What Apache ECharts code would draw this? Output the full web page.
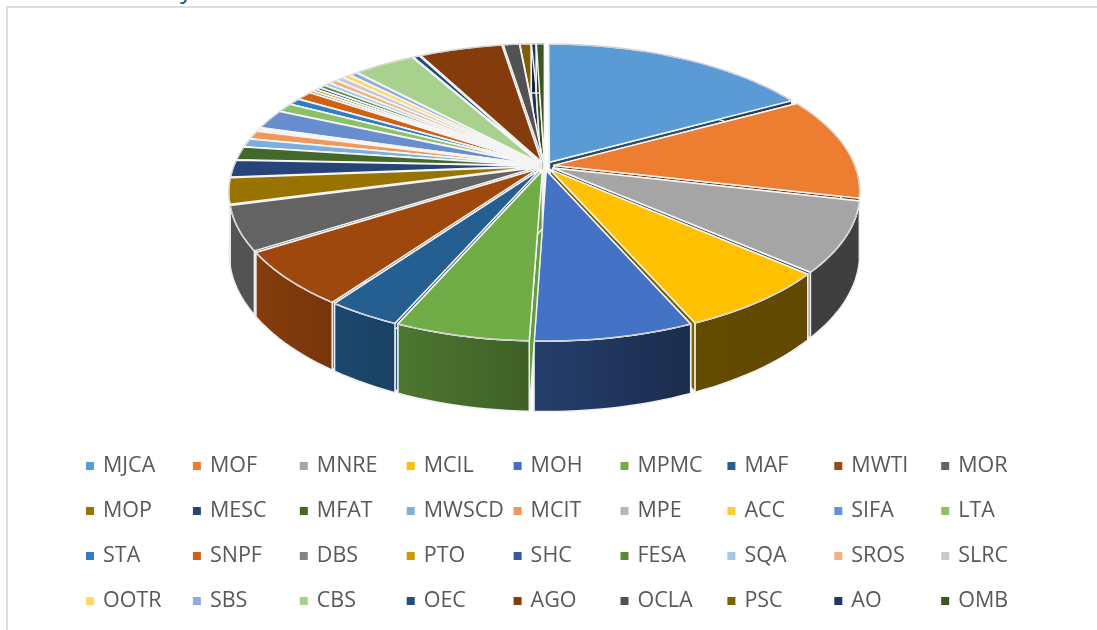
<!DOCTYPE html>
<html>
<head>
<meta charset="utf-8">
<title>Pie</title>
<script src="https://cdn.jsdelivr.net/npm/echarts@6/dist/echarts.min.js"></script>
<style>
  html, body { margin: 0; background: #fff; }
  #chart { width: 1097px; height: 630px; }
</style>
</head>
<body>
<div id="chart"></div>
<script>
const categories = ['MJCA', 'MOF', 'MNRE', 'MCIL', 'MOH', 'MPMC', 'MAF', 'MWTI', 'MOR',
  'MOP', 'MESC', 'MFAT', 'MWSCD', 'MCIT', 'MPE', 'ACC', 'SIFA', 'LTA',
  'STA', 'SNPF', 'DBS', 'PTO', 'SHC', 'FESA', 'SQA', 'SROS', 'SLRC',
  'OOTR', 'SBS', 'CBS', 'OEC', 'AGO', 'OCLA', 'PSC', 'AO', 'OMB']
const values = [17.0, 11.6, 7.8, 7.0, 7.1, 6.0, 3.3, 6.1, 4.9,
  2.9, 1.9, 1.5, 0.95, 0.95, 0.2, 0.2, 2.2, 1.0,
  0.75, 1.0, 0.26, 0.28, 0.28, 0.38, 0.42, 0.5, 0.52,
  0.48, 0.48, 3.85, 0.4, 5.2, 1.0, 0.7, 0.3, 0.5]
const colors = ['#5B9BD5', '#ED7D31', '#A5A5A5', '#FFC000', '#4472C4', '#70AD47', '#255E91', '#9E480E', '#636363',
  '#997300', '#264478', '#43682B', '#7CAFDD', '#F1975A', '#B7B7B7', '#FFCD33', '#698ED0', '#8CC168',
  '#327DC2', '#D26012', '#848484', '#CC9A00', '#335AA1', '#5A8A39', '#A3C7E8', '#F4B183', '#C9C9C9',
  '#FFD966', '#8FAADC', '#A9D18E', '#1F4E79', '#843C0C', '#525252', '#7F6000', '#1F3864', '#385723']

// pie seen in perspective, tuned by eye against the picture
const view = { cx: 544.5, cy: 166, rx: 301, ry: 139.6, k: 0.172, depth: 58, explode: 0.032 }
const columns = 9
const total = values.reduce((a, b) => a + b, 0)

function project(u, v) {
  const w = 1 - view.k * v
  return [view.cx + view.rx * u / w, view.cy + view.ry * v / w, w]
}

// position on the top disc, angle clockwise from 12 o'clock
function rimPoint(angle, mid, r) {
  const u = r * Math.sin(angle) + view.explode * Math.sin(mid)
  const v = -r * Math.cos(angle) - view.explode * Math.cos(mid)
  return project(u, v)
}

function lower(p) {
  return [p[0], p[1] + view.depth / p[2]]
}

function darken(hex, f) {
  const n = parseInt(hex.slice(1), 16)
  const c = [n >> 16, (n >> 8) & 255, n & 255].map((d) => Math.round(d * f))
  return 'rgb(' + c.join(',') + ')'
}

function shade(hex, x) {
  // walls get darker towards the right
  const t = Math.min(1, Math.max(0, (x - 240) / 460))
  return darken(hex, 0.85 - 0.47 * t)
}

function wallFill(color, pts) {
  const xs = pts.map((p) => p[0])
  const x0 = Math.min.apply(null, xs)
  const x1 = Math.max.apply(null, xs)
  return {
    type: 'linear', x: 0, y: 0, x2: 1, y2: 0,
    colorStops: [{ offset: 0, color: shade(color, x0) }, { offset: 1, color: shade(color, x1) }]
  }
}

function renderSlice(params, api) {
  const before = api.value(0)
  const value = api.value(1)
  const color = colors[params.seriesIndex]
  const a0 = before / total * Math.PI * 2
  const a1 = (before + value) / total * Math.PI * 2
  const mid = (a0 + a1) / 2
  const steps = Math.max(2, Math.ceil((a1 - a0) / 0.03))
  const rim = []
  for (let i = 0; i <= steps; i++) {
    rim.push(rimPoint(a0 + (a1 - a0) * i / steps, mid, 1))
  }
  const apex = rimPoint(0, mid, 0)
  const rimLow = rim.map(lower).reverse()
  const children = []
  const wallLine = { stroke: '#f0f0f0', lineWidth: 1.5 }
  // cut faces turned to the left catch the light
  const cutFill = mid > Math.PI ? darken(color, 0.9) : darken(color, 0.5)

  // the two cut faces first, they show through the gaps between slices
  ;[rim[0], rim[rim.length - 1]].forEach((p) => {
    const pts = [apex, p, lower(p), lower(apex)].map((q) => [q[0], q[1]])
    children.push({ type: 'polygon', shape: { points: pts }, style: Object.assign({ fill: cutFill }, wallLine) })
  })
  const wall = rim.map((q) => [q[0], q[1]]).concat(rimLow)
  children.push({ type: 'polygon', shape: { points: wall }, style: Object.assign({ fill: wallFill(color, wall) }, wallLine) })

  const top = [[apex[0], apex[1]]].concat(rim.map((q) => [q[0], q[1]]))
  children.push({ type: 'polygon', shape: { points: top }, style: { fill: color, stroke: '#f6f6f6', lineWidth: 1.5, lineJoin: 'round' } })
  children.push({ type: 'polyline', shape: { points: rim.map((q) => [q[0], q[1]]) }, style: { fill: 'none', stroke: '#c8c8c8', lineWidth: 1 } })
  return { type: 'group', children: children }
}

// slices nearer to the viewer paint later
let running = 0
const seriesList = categories.map((name, i) => {
  const before = running
  running += values[i]
  const midAngle = (before + values[i] / 2) / total * Math.PI * 2
  return {
    type: 'custom',
    name: name,
    coordinateSystem: 'none',
    silent: true,
    z: 10 + Math.round((1 - Math.cos(midAngle)) * 100),
    itemStyle: { color: colors[i] },
    data: [[before, values[i]]],
    renderItem: renderSlice
  }
})

const legends = []
for (let c = 0; c < columns; c++) {
  legends.push({
    orient: 'vertical',
    left: 86 + c * 106.9,
    top: 454,
    padding: 0,
    itemWidth: 8,
    itemHeight: 8,
    itemGap: 21,
    icon: 'rect',
    selectedMode: false,
    data: categories.filter((_, i) => i % columns === c),
    textStyle: {
      fontFamily: '"Open Sans"',
      fontSize: 21.5,
      lineHeight: 24,
      color: '#595959',
      padding: [0, 0, 0, 4]
    }
  })
}

const chart = echarts.init(document.getElementById('chart'))
chart.setOption({
  backgroundColor: '#fff',
  animation: false,
  legend: legends,
  graphic: [{
    type: 'polyline',
    shape: { points: [[7, 630], [7, 7], [1097, 7]] },
    style: { fill: 'none', stroke: '#dedede', lineWidth: 2 }
  }, {
    // tail of the heading that is cut off above the frame
    type: 'text',
    x: 180,
    y: 4,
    style: { text: 'y', fontFamily: '"Open Sans"', fontSize: 26, fill: '#1F4E79', verticalAlign: 'bottom' }
  }],
  series: seriesList
})
</script>
</body>
</html>
